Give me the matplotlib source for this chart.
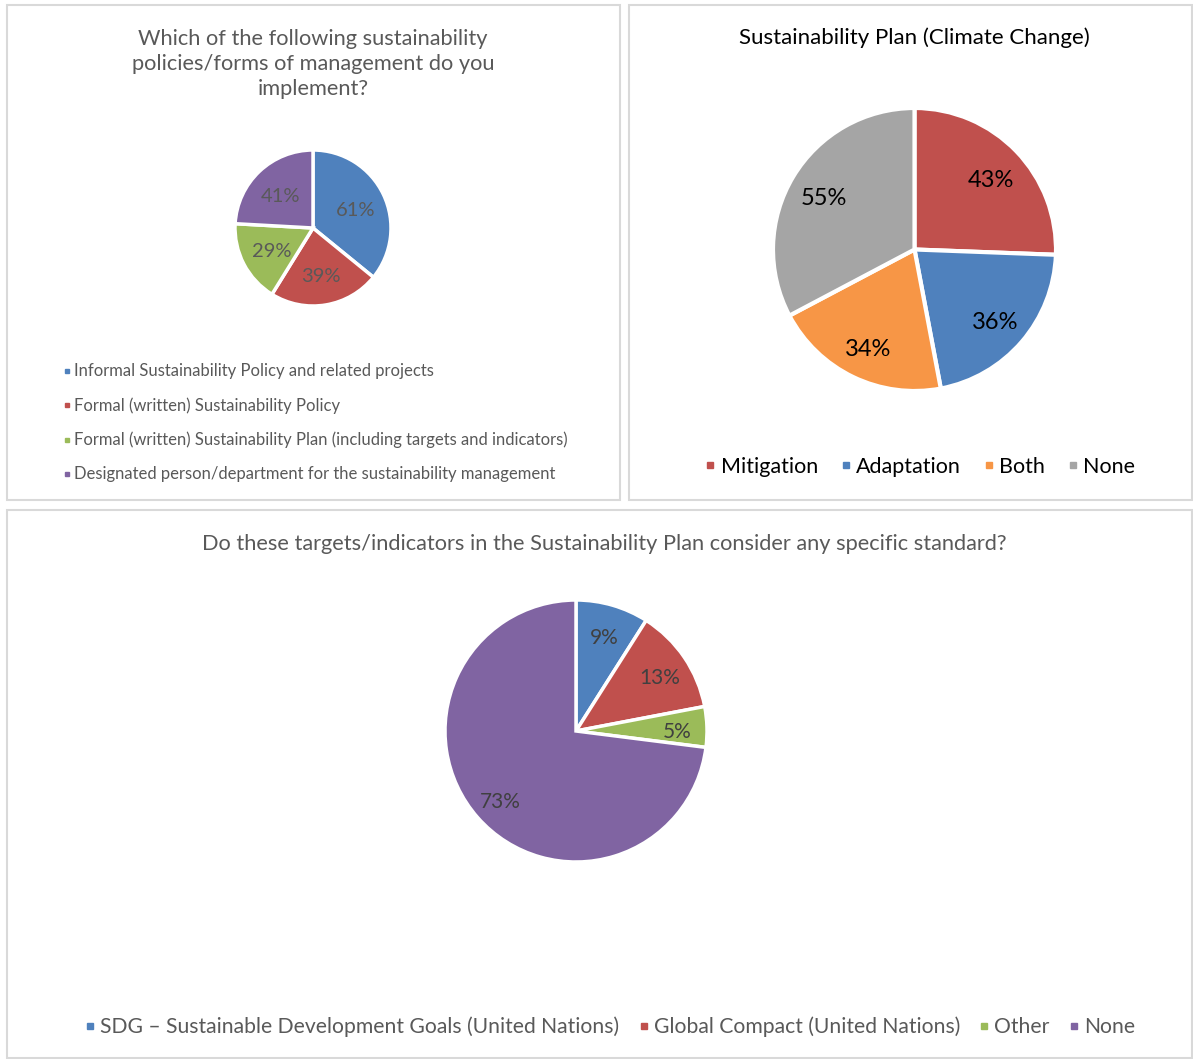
import matplotlib
matplotlib.use("Agg")
import matplotlib.pyplot as plt
from matplotlib.patches import Rectangle
from matplotlib.lines import Line2D
import numpy as np

plt.rcParams['font.family'] = ['Lato', 'DejaVu Sans']

# data
policy_labels = ["Informal Sustainability Policy and related projects",
                 "Formal (written) Sustainability Policy",
                 "Formal (written) Sustainability Plan (including targets and indicators)",
                 "Designated person/department for the sustainability management"]
policy_values = [61, 39, 29, 41]

climate_labels = ["Mitigation", "Adaptation", "Both", "None"]
climate_values = [43, 36, 34, 55]

standard_labels = ["SDG \u2013 Sustainable Development Goals (United Nations)",
                   "Global Compact (United Nations)", "Other", "None"]
standard_values = [9, 13, 5, 73]

BLUE, RED, GREEN, PURPLE = "#4F81BD", "#C0504D", "#9BBB59", "#8064A2"
ORANGE, GRAY = "#F79646", "#A5A5A5"

W, H = 1193, 1059
fig = plt.figure(figsize=(W / 100, H / 100), dpi=100)
fig.patch.set_facecolor("white")


def px_box(x0, y0, x1, y1):
    # pixel box (top-left origin) -> figure fraction
    return [x0 / W, 1 - y1 / H, (x1 - x0) / W, (y1 - y0) / H]


# panel borders
for (x0, y0, x1, y1) in [(7, 5, 620, 500), (629, 5, 1192, 500), (7, 510, 1192, 1058)]:
    b = px_box(x0, y0, x1, y1)
    fig.patches.append(Rectangle((b[0], b[1]), b[2], b[3], transform=fig.transFigure,
                                 fill=False, edgecolor="#D9D9D9", linewidth=1.5))


def draw_pie(cx, cy, r, values, colors, dist, txtcolor, fsize, lw):
    ax = fig.add_axes(px_box(cx - r, cy - r, cx + r, cy + r))
    wedges, _ = ax.pie(values, colors=colors, startangle=90, counterclock=False,
                       wedgeprops=dict(edgecolor="white", linewidth=lw))
    for w, v in zip(wedges, values):
        ang = np.deg2rad((w.theta1 + w.theta2) / 2)
        ax.text(dist * np.cos(ang), dist * np.sin(ang) - 0.03, f"{v}%", ha="center",
                va="center", color=txtcolor, fontsize=fsize)
    ax.set_xlim(-1, 1)
    ax.set_ylim(-1, 1)
    ax.set_aspect("equal")
    ax.axis("off")
    return wedges


# top-left
w1 = draw_pie(313, 228, 78, policy_values, [BLUE, RED, GREEN, PURPLE], 0.6, "#595959", 14.5, 2.5)
fig.text(313 / W, 1 - 64 / H,
         "Which of the following sustainability\npolicies/forms of management do you\nimplement?",
         ha="center", va="center", fontsize=15.7, color="#595959", linespacing=1.34)
h1 = [Line2D([], [], marker="s", linestyle="", color=c, markersize=3.5)
      for c in [BLUE, RED, GREEN, PURPLE]]
fig.legend(h1, policy_labels, loc="upper left", bbox_to_anchor=(55 / W, 1 - 355 / H),
           frameon=False, fontsize=12, labelcolor="#595959", handlelength=0.4,
           handletextpad=0.25, labelspacing=1.08, borderpad=0)

# top-right
w2 = draw_pie(914.5, 249.5, 141.5, climate_values, [RED, BLUE, ORANGE, GRAY], 0.75, "black", 17, 3)
fig.text(914 / W, 1 - 38 / H, "Sustainability Plan (Climate Change)", ha="center",
         va="center", fontsize=16, color="black")
h2 = [Line2D([], [], marker="s", linestyle="", color=c, markersize=5)
      for c in [RED, BLUE, ORANGE, GRAY]]
fig.legend(h2, climate_labels, loc="center", bbox_to_anchor=(921 / W, 1 - 467 / H),
           ncol=4, frameon=False, fontsize=15.5, labelcolor="black", handlelength=0.3,
           handletextpad=0.32, columnspacing=1.15, borderpad=0)

# bottom
w3 = draw_pie(576, 731, 131, standard_values, [BLUE, RED, GREEN, PURPLE], 0.77, "#404040", 15, 2.5)
fig.text(604 / W, 1 - 544 / H,
         "Do these targets/indicators in the Sustainability Plan consider any specific standard?",
         ha="center", va="center", fontsize=15.7, color="#595959")
h3 = [Line2D([], [], marker="s", linestyle="", color=c, markersize=5)
      for c in [BLUE, RED, GREEN, PURPLE]]
fig.legend(h3, standard_labels, loc="center", bbox_to_anchor=(611 / W, 1 - 1027 / H),
           ncol=4, frameon=False, fontsize=15.2, labelcolor="#595959", handlelength=0.3,
           handletextpad=0.32, columnspacing=1.0, borderpad=0)

fig.savefig("out.png", dpi=100, facecolor="white")
